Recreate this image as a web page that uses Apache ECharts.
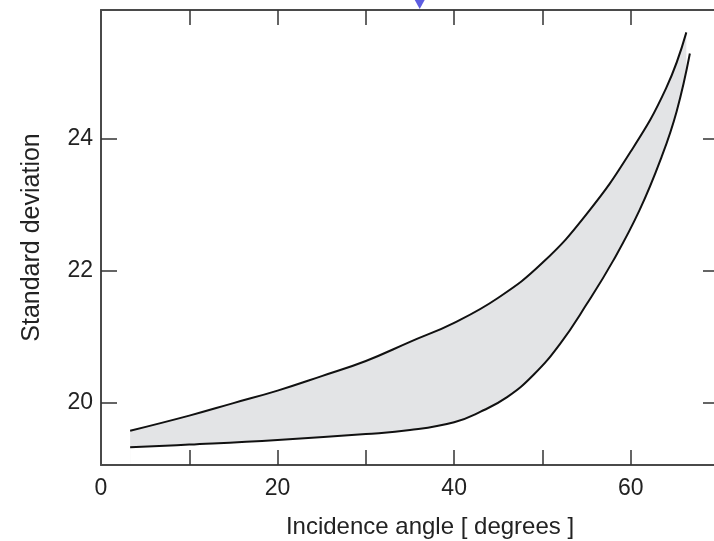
<!DOCTYPE html>
<html>
<head>
<meta charset="utf-8">
<title>Standard deviation vs incidence angle</title>
<script src="https://cdn.jsdelivr.net/npm/echarts@6/dist/echarts.min.js"></script>
<style>
  html, body { margin: 0; padding: 0; background: #fff; }
  #chart { width: 714px; height: 541px; }
</style>
</head>
<body>
<div id="chart"></div>
<script>
// upper bound of the band: incidence angle (deg) / standard deviation
var upperAngles = [3.3, 10, 15, 20, 25, 30, 35, 40, 45, 50, 55, 60, 64, 66.3];
var upperStd = [19.57, 19.80, 19.99, 20.18, 20.40, 20.63, 20.92, 21.21, 21.59, 22.12, 22.86, 23.81, 24.77, 25.62];
// lower bound of the band
var lowerAngles = [3.3, 10, 20, 30, 35, 40, 43, 46, 49, 52, 55, 58, 61, 63.5, 65.2, 66.7];
var lowerStd = [19.32, 19.36, 19.43, 19.52, 19.58, 19.70, 19.86, 20.08, 20.42, 20.89, 21.49, 22.15, 22.92, 23.73, 24.42, 25.30];
// axis ticks / labels
var xTickLabels = [0, 20, 40, 60];
var xTicks = [10, 20, 30, 40, 50, 60];
var yTickLabels = [20, 22, 24];
// blue marker on the top frame
var markerAngle = 36.1;

var chart = echarts.init(document.getElementById('chart'));

var axisColor = '#4a4a4a';
var textColor = '#222';
var fontFamily = '"Liberation Sans", Arial, Helvetica, sans-serif';

function frameX(pos, showLabels) {
  return {
    type: 'value',
    position: pos,
    min: 0,
    max: 70,
    interval: 10,
    z: 10,
    axisLine: { show: true, onZero: false, lineStyle: { color: axisColor, width: 2 } },
    axisTick: { show: true, inside: true, length: 15, customValues: xTicks, lineStyle: { color: '#333', width: 1.5 } },
    axisLabel: {
      show: showLabels,
      customValues: xTickLabels,
      margin: 12,
      color: textColor,
      fontSize: 23,
      fontFamily: fontFamily
    },
    splitLine: { show: false }
  };
}

function frameY(pos, showLabels) {
  return {
    type: 'value',
    position: pos,
    min: 19.05,
    max: 25.96,
    z: 10,
    axisLine: { show: true, onZero: false, lineStyle: { color: axisColor, width: 2 } },
    axisTick: { show: true, inside: true, length: 16, customValues: yTickLabels, lineStyle: { color: '#333', width: 1.5 } },
    axisLabel: {
      show: showLabels,
      customValues: yTickLabels,
      margin: 8,
      color: textColor,
      fontSize: 23,
      fontFamily: fontFamily
    },
    splitLine: { show: false }
  };
}

var xBottom = frameX('bottom', true);
xBottom.name = 'Incidence angle [ degrees ]';
xBottom.nameLocation = 'middle';
xBottom.nameGap = 50;
xBottom.nameTextStyle = { color: textColor, fontSize: 24, fontFamily: fontFamily, padding: [0, 0, 0, 40] };

var yLeft = frameY('left', true);
yLeft.name = 'Standard deviation';
yLeft.nameLocation = 'middle';
yLeft.nameGap = 56;
yLeft.nameTextStyle = { color: textColor, fontSize: 25, fontFamily: fontFamily };

// right frame edge falls just outside the picture: keep only its ticks
var yRight = frameY('right', false);
yRight.axisLine.lineStyle = { color: 'rgba(0,0,0,0)', width: 0 };

var upperData = upperAngles.map(function (a, i) { return [a, upperStd[i]]; });
var lowerData = lowerAngles.map(function (a, i) { return [a, lowerStd[i]]; });

chart.setOption({
  animation: false,
  grid: { left: 101, right: -5, top: 10, bottom: 76, outerBoundsMode: 'none' },
  xAxis: [xBottom, frameX('top', false)],
  yAxis: [yLeft, yRight],
  series: [
    {
      // grey fill under the upper curve ...
      name: 'upper',
      type: 'line',
      data: upperData,
      smooth: 0.45,
      symbol: 'none',
      z: 2,
      lineStyle: { color: '#111', width: 2 },
      areaStyle: { color: '#e3e4e6', opacity: 1, origin: 'start' }
    },
    {
      // ... cut back to white under the lower curve, leaving the band
      name: 'lower',
      type: 'line',
      data: lowerData,
      smooth: 0.45,
      symbol: 'none',
      z: 3,
      lineStyle: { color: '#111', width: 2 },
      areaStyle: { color: '#fff', opacity: 1, origin: 'start' }
    },
    {
      name: 'marker',
      type: 'scatter',
      data: [[markerAngle, 25.96]],
      symbol: 'triangle',
      symbolRotate: 180,
      symbolSize: [11, 10],
      symbolOffset: [0, -6],
      clip: false,
      z: 5,
      itemStyle: { color: '#3434d9' }
    }
  ]
});
</script>
</body>
</html>
